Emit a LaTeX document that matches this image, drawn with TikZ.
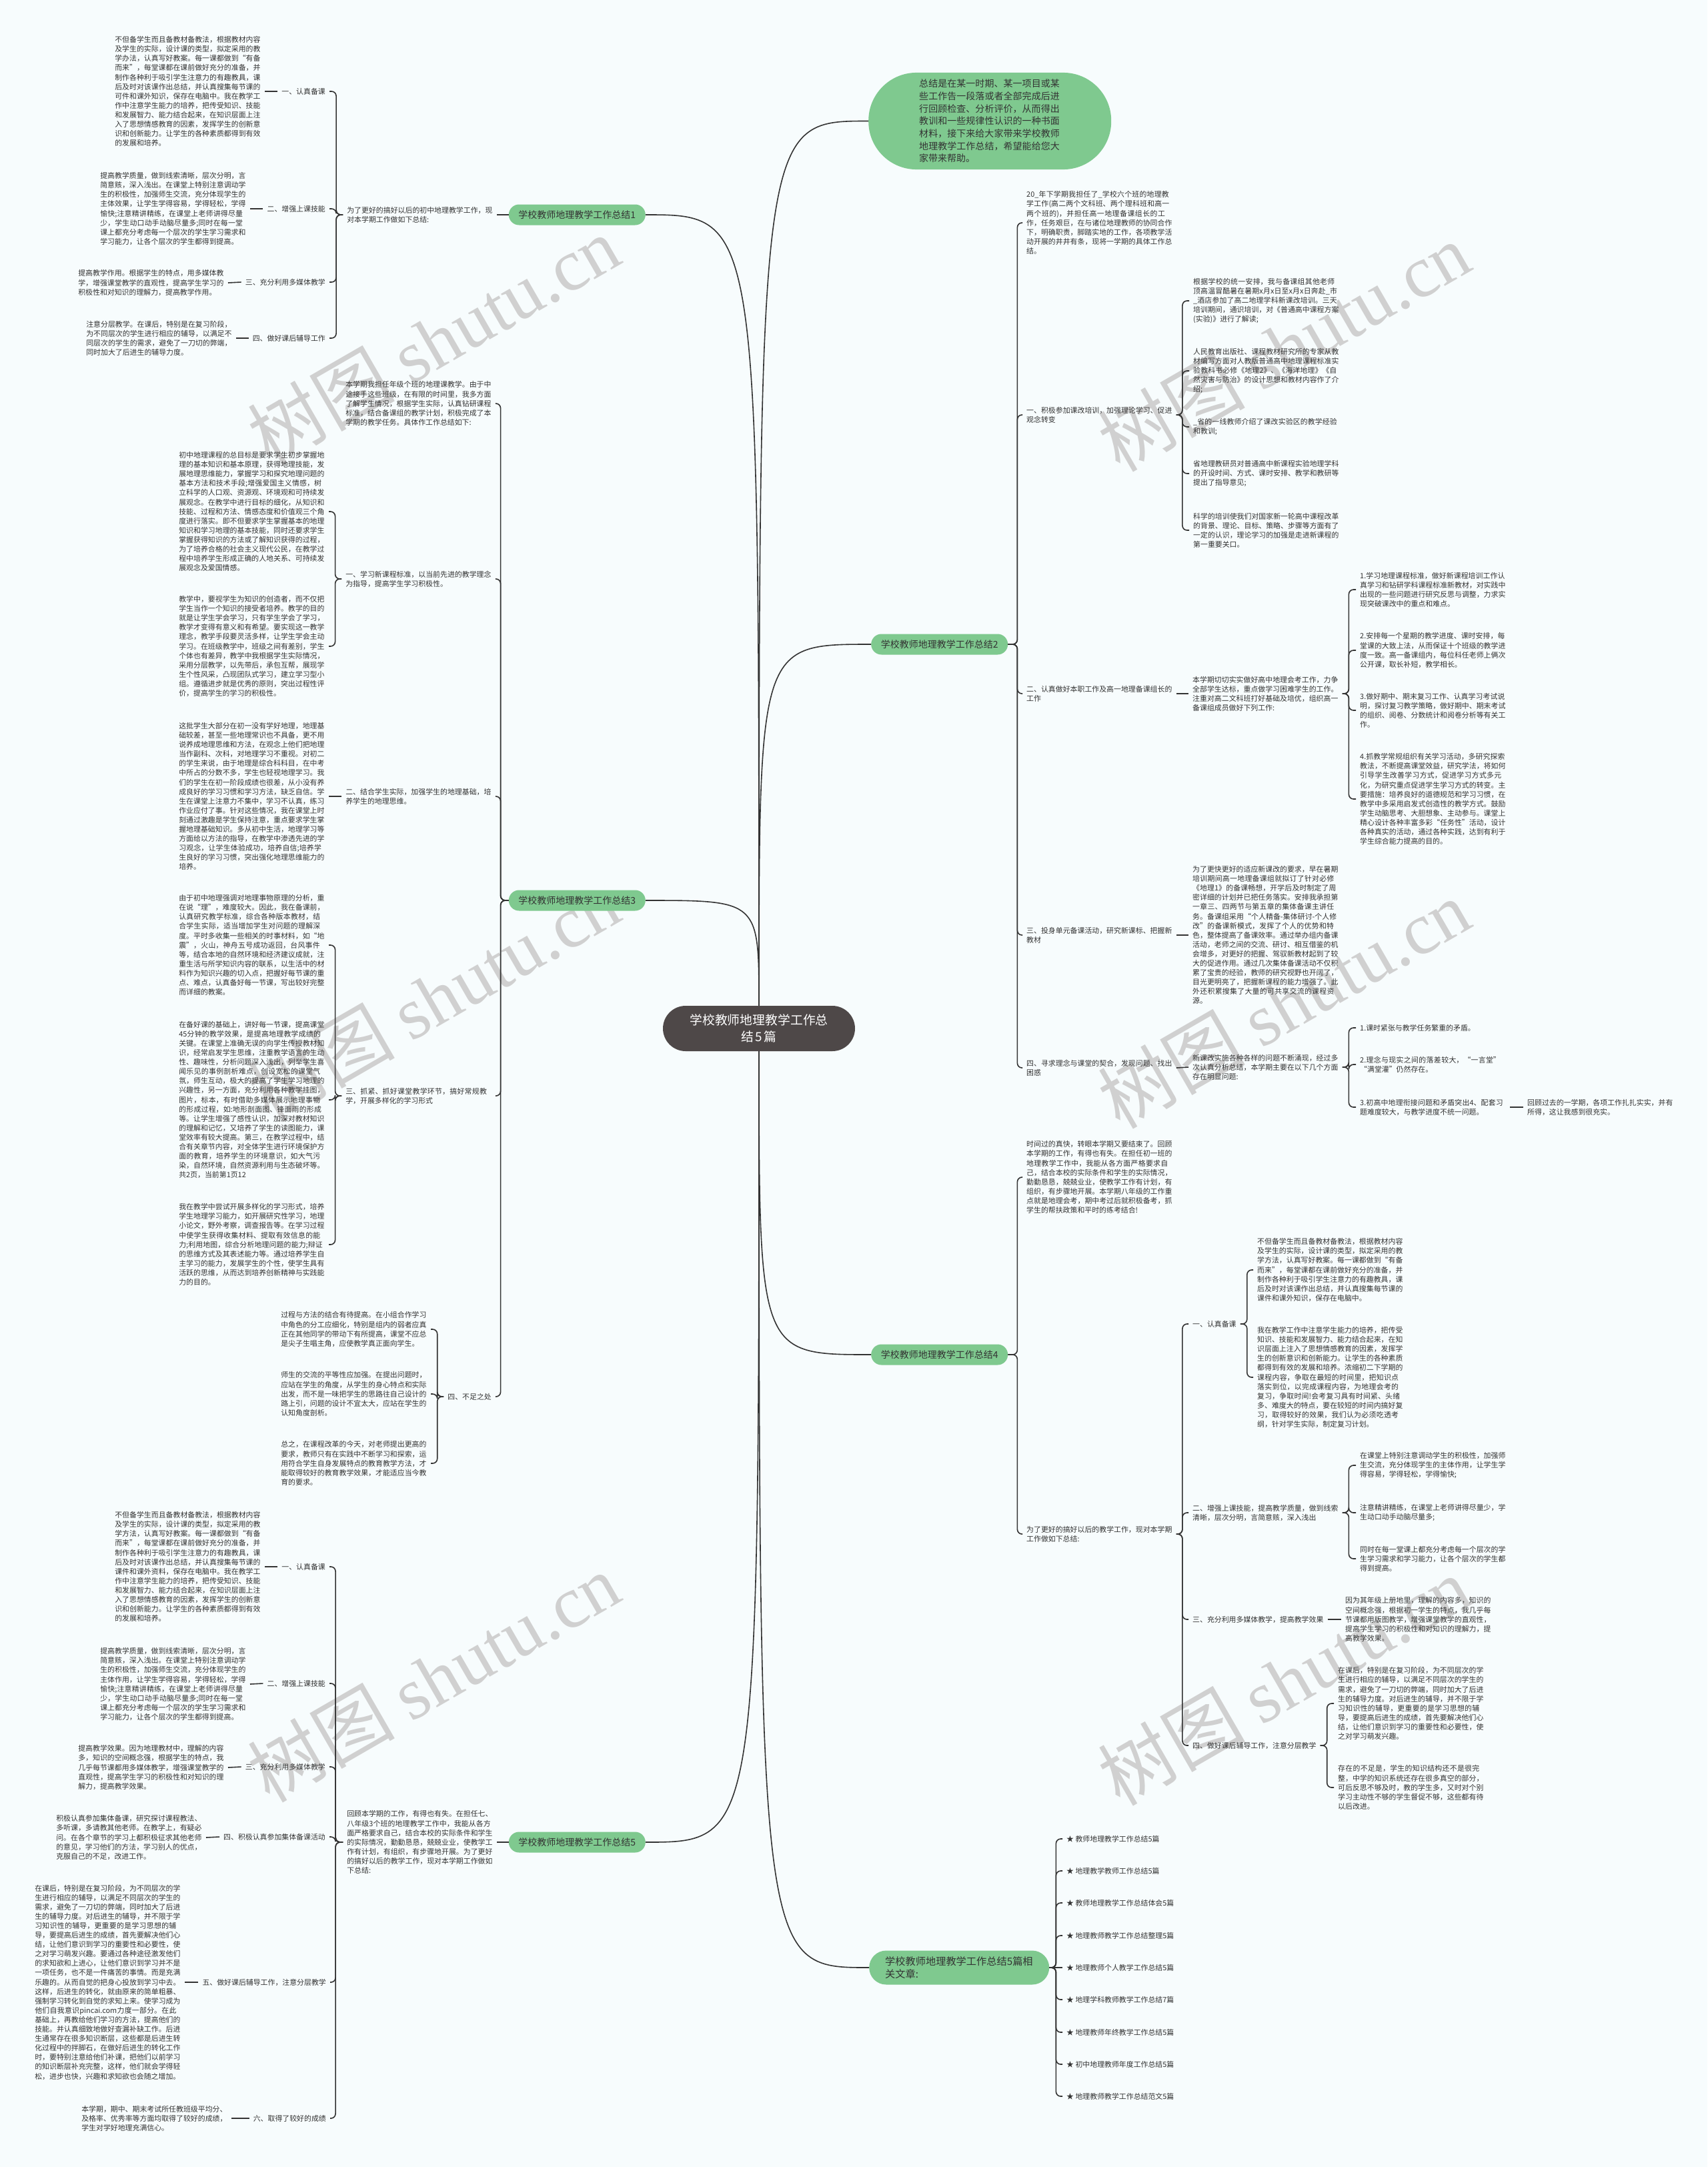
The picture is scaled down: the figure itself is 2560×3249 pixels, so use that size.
\documentclass[tikz,border=0pt]{standalone}
\usepackage{fontspec}
\setmainfont{Noto Sans CJK SC}
\newfontfamily\wmfont{Liberation Serif}
\XeTeXlinebreaklocale "zh"
\XeTeXlinebreakskip=0pt plus 1pt
\usetikzlibrary{positioning}
\definecolor{bggray}{RGB}{247,252,253}
\definecolor{mapgreen}{RGB}{127,201,143}
\definecolor{hubgray}{RGB}{78,72,72}
\definecolor{inkgray}{RGB}{51,51,51}
\definecolor{wmgray}{RGB}{208,208,208}
\newcommand{\leaffont}{\fontsize{10.9}{14.1}\selectfont}
\newcommand{\branchfont}{\fontsize{14}{18.7}\selectfont}

\begin{document}
\begin{tikzpicture}[
	x=1pt, y=-1pt,
	every node/.style={text=inkgray},
	hub/.style={fill=hubgray, text=white, rounded corners=34pt, font=\fontsize{18.8}{25}\selectfont, align=center, text width=212pt, inner xsep=38pt, minimum height=68pt},
	branch/.style={fill=mapgreen, rounded corners=15.5pt, font=\branchfont, minimum width=205pt, minimum height=31pt, inner sep=0pt},
	leaf/.style={font=\leaffont, align=left, inner xsep=6pt, inner ysep=1pt, text width=218.5pt},
	lbl/.style={font=\leaffont, inner xsep=6pt, inner ysep=1pt},
	link/.style={draw=inkgray, line width=1.6pt, rounded corners=7pt},
	wm/.style={text=wmgray, font=\fontsize{110}{110}\selectfont, rotate=30}
]

% canvas
\fill[bggray] (0,0) rectangle (2560,3249);

% watermarks
\node[wm] (wm1) at (650,510) {树图 {\wmfont shutu.cn}};
\node[wm] (wm2) at (1925,520) {树图 {\wmfont shutu.cn}};
\node[wm] (wm3) at (650,1495) {树图 {\wmfont shutu.cn}};
\node[wm] (wm4) at (1925,1505) {树图 {\wmfont shutu.cn}};
\node[wm] (wm5) at (650,2515) {树图 {\wmfont shutu.cn}};
\node[wm] (wm6) at (1925,2520) {树图 {\wmfont shutu.cn}};

% centre and main branches
\node[hub] (hub) at (1138,1542) {学校教师地理教学工作总\\结5篇};
\node[branch, anchor=west, font=\branchfont, text width=212pt, align=left, inner xsep=76pt, inner ysep=10pt, rounded corners=72pt] (intro) at (1302,181.5) {总结是在某一时期、某一项目或某些工作告一段落或者全部完成后进行回顾检查、分析评价，从而得出教训和一些规律性认识的一种书面材料，接下来给大家带来学校教师地理教学工作总结，希望能给您大家带来帮助。};
\node[branch, anchor=east] (b1) at (968,322) {学校教师地理教学工作总结1};
\node[branch, anchor=west] (b2) at (1306,966) {学校教师地理教学工作总结2};
\node[branch, anchor=east] (b3) at (968,1350) {学校教师地理教学工作总结3};
\node[branch, anchor=west] (b4) at (1306,2031) {学校教师地理教学工作总结4};
\node[branch, anchor=east] (b5) at (968,2762) {学校教师地理教学工作总结5};
\node[branch, anchor=west, font=\fontsize{15.2}{19.3}\selectfont, text width=222pt, align=left, inner xsep=24pt, minimum height=51pt, rounded corners=25.5pt] (rel) at (1303,2950) {学校教师地理教学工作总结5篇相关文章:};

\draw[link] (hub.north) .. controls (hub.north |- intro.west) .. (intro.west);
\draw[link] (hub.north) .. controls (hub.north |- b1.east) .. (b1.east);
\draw[link] (hub.north) .. controls (hub.north |- b2.west) .. (b2.west);
\draw[link] (hub.north) .. controls (hub.north |- b3.east) .. (b3.east);
\draw[link] (hub.south) .. controls (hub.south |- b4.west) .. (b4.west);
\draw[link] (hub.south) .. controls (hub.south |- b5.east) .. (b5.east);
\draw[link] (hub.south) .. controls (hub.south |- rel.west) .. (rel.west);

% summary 1
\node[leaf, anchor=east] (s1) at (745,322) {为了更好的搞好以后的初中地理教学工作，现对本学期工作做如下总结:};
\node[lbl, anchor=east] (s1a) at (494,137) {一、认真备课};
\node[lbl, anchor=east] (s1b) at (494,313) {二、增强上课技能};
\node[lbl, anchor=east] (s1c) at (494,423) {三、充分利用多媒体教学};
\node[lbl, anchor=east] (s1d) at (494,507) {四、做好课后辅导工作};
\node[leaf, anchor=east] (s1at) at (397,137) {不但备学生而且备教材备教法，根据教材内容及学生的实际，设计课的类型，拟定采用的教学办法，认真写好教案。每一课都做到“有备而来”，每堂课都在课前做好充分的准备，并制作各种利于吸引学生注意力的有趣教具，课后及时对该课作出总结，并认真搜集每节课的可件和课外知识，保存在电脑中。我在教学工作中注意学生能力的培养，把传受知识、技能和发展智力、能力结合起来，在知识层面上注入了思想情感教育的因素，发挥学生的创新意识和创新能力。让学生的各种素质都得到有效的发展和培养。};
\node[leaf, anchor=east] (s1bt) at (375,313) {提高教学质量，做到线索清晰，层次分明，言简意赅，深入浅出。在课堂上特别注意调动学生的积极性，加强师生交流，充分体现学生的主体效果，让学生学得容易，学得轻松，学得愉快;注意精讲精练，在课堂上老师讲得尽量少，学生动口动手动脑尽量多;同时在每一堂课上都充分考虑每一个层次的学生学习需求和学习能力，让各个层次的学生都得到提高。};
\node[leaf, anchor=east] (s1ct) at (342,424) {提高教学作用。根据学生的特点，用多媒体教学，增强课堂教学的直观性，提高学生学习的积极性和对知识的理解力，提高教学作用。};
\node[leaf, anchor=east] (s1dt) at (354,507) {注意分层教学。在课后，特别是在复习阶段，为不同层次的学生进行相应的辅导，以满足不同层次的学生的需求，避免了一刀切的弊端，同时加大了后进生的辅导力度。};

\draw[link] (b1.west) -- (s1.east);
\draw[link] (s1.west) -- ++(-10,0) |- (s1a.east);
\draw[link] (s1.west) -- ++(-10,0) |- (s1b.east);
\draw[link] (s1.west) -- ++(-10,0) |- (s1c.east);
\draw[link] (s1.west) -- ++(-10,0) |- (s1d.east);
\draw[link] (s1a.west) -- (s1at.east);
\draw[link] (s1b.west) -- (s1bt.east);
\draw[link] (s1c.west) -- (s1ct.east);
\draw[link] (s1d.west) -- (s1dt.east);

% summary 2
\node[leaf, anchor=west] (s2i) at (1533,334) {20\_年下学期我担任了\_学校六个班的地理教学工作(高二两个文科班、两个理科班和高一两个班的)，并担任高一地理备课组长的工作，任务艰巨，在与诸位地理教师的协同合作下，明确职责，脚踏实地的工作，各项教学活动开展的井井有条，现将一学期的具体工作总结。};
\node[leaf, anchor=west] (s2a) at (1533,622) {一、积极参加课改培训，加强理论学习、促进观念转变};
\node[leaf, anchor=west] (s2a1) at (1783,451) {根据学校的统一安排，我与备课组其他老师顶高温冒酷暑在暑期x月x日至x月x日奔赴\_市\_酒店参加了高二地理学科新课改培训。三天培训期间，通识培训，对《普通高中课程方案(实验)》进行了解读;};
\node[leaf, anchor=west] (s2a2) at (1783,556) {人民教育出版社、课程教材研究所的专家从教材编写方面对人教版普通高中地理课程标准实验教科书必修《地理2》、《海洋地理》《自然灾害与防治》的设计思想和教材内容作了介绍;};
\node[leaf, anchor=west] (s2a3) at (1783,640) {\_省的一线教师介绍了课改实验区的教学经验和教训;};
\node[leaf, anchor=west] (s2a4) at (1783,710) {省地理教研员对普通高中新课程实验地理学科的开设时间、方式、课时安排、教学和教研等提出了指导意见;};
\node[leaf, anchor=west] (s2a5) at (1783,795) {科学的培训使我们对国家新一轮高中课程改革的背景、理论、目标、策略、步骤等方面有了一定的认识，理论学习的加强是走进新课程的第一重要关口。};
\node[leaf, anchor=west] (s2b) at (1533,1040) {二、认真做好本职工作及高一地理备课组长的工作};
\node[leaf, anchor=west] (s2bt) at (1782,1040) {本学期切切实实做好高中地理会考工作，力争全部学生达标，重点做学习困难学生的工作。注重对高二文科班打好基础及培优，组织高一备课组成员做好下列工作:};
\node[leaf, anchor=west] (s2b1) at (2033,884) {1.学习地理课程标准，做好新课程培训工作认真学习和钻研学科课程标准新教材，对实践中出现的一些问题进行研究反思与调整，力求实现突破课改中的重点和难点。};
\node[leaf, anchor=west] (s2b2) at (2033,975) {2.安排每一个星期的教学进度、课时安排，每堂课的大致上法，从而保证十个班级的教学进度一致。高一备课组内，每位科任老师上俩次公开课，取长补短，教学相长。};
\node[leaf, anchor=west] (s2b3) at (2033,1065) {3.做好期中、期末复习工作、认真学习考试说明，探讨复习教学策略，做好期中、期末考试的组织、阅卷、分数统计和阅卷分析等有关工作。};
\node[leaf, anchor=west] (s2b4) at (2033,1198) {4.抓教学常规组织有关学习活动，多研究探索教法，不断提高课堂效益，研究学法，将如何引导学生改善学习方式，促进学习方式多元化，为研究重点促进学生学习方式的转变。主要措施：培养良好的道德规范和学习习惯，在教学中多采用启发式创造性的教学方式。鼓励学生动脑思考、大胆想象、主动参与。课堂上精心设计各种丰富多彩“任务性”活动，设计各种真实的活动，通过各种实践，达到有利于学生综合能力提高的目的。};
\node[leaf, anchor=west] (s2c) at (1533,1402) {三、投身单元备课活动，研究新课标、把握新教材};
\node[leaf, anchor=west] (s2ct) at (1782,1402) {为了更快更好的适应新课改的要求，早在暑期培训期间高一地理备课组就拟订了针对必修《地理1》的备课畅想，开学后及时制定了周密详细的计划并已把任务落实。安排我承担第一章三、四两节与第五章的集体备课主讲任务。备课组采用“个人精备-集体研讨-个人修改”的备课新模式，发挥了个人的优势和特色，整体提高了备课效率。通过举办组内备课活动，老师之间的交流、研讨、相互借鉴的机会增多，对更好的把握、驾驭新教材起到了较大的促进作用。通过几次集体备课活动不仅积累了宝贵的经验，教师的研究视野也开阔了，目光更明亮了，把握新课程的能力增强了。此外还积累搜集了大量的可共享交流的课程资源。};
\node[leaf, anchor=west] (s2d) at (1533,1601) {四、寻求理念与课堂的契合，发现问题、找出困惑};
\node[leaf, anchor=west] (s2dt) at (1782,1600) {新课改实施各种各样的问题不断涌现，经过多次认真分析总结，本学期主要在以下几个方面存在明显问题:};
\node[leaf, anchor=west] (s2d1) at (2033,1541) {1.课时紧张与教学任务繁重的矛盾。};
\node[leaf, anchor=west] (s2d2) at (2033,1596) {2.理念与现实之间的落差较大，“一言堂”“满堂灌”仍然存在。};
\node[leaf, anchor=west] (s2d3) at (2033,1660) {3.初高中地理衔接问题和矛盾突出4、配套习题难度较大，与教学进度不统一问题。};
\node[leaf, anchor=west] (s2d3t) at (2284,1660) {回顾过去的一学期，各项工作扎扎实实，并有所得，这让我感到很充实。};

\draw[link] (b2.east) -- ++(14,0) |- (s2i.west);
\draw[link] (b2.east) -- ++(14,0) |- (s2a.west);
\draw[link] (b2.east) -- ++(14,0) |- (s2b.west);
\draw[link] (b2.east) -- ++(14,0) |- (s2c.west);
\draw[link] (b2.east) -- ++(14,0) |- (s2d.west);
\draw[link] (s2a.east) -- ++(9,0) |- (s2a1.west);
\draw[link] (s2a.east) -- ++(9,0) |- (s2a2.west);
\draw[link] (s2a.east) -- ++(9,0) |- (s2a3.west);
\draw[link] (s2a.east) -- ++(9,0) |- (s2a4.west);
\draw[link] (s2a.east) -- ++(9,0) |- (s2a5.west);
\draw[link] (s2b.east) -- (s2bt.west);
\draw[link] (s2bt.east) -- ++(9.5,0) |- (s2b1.west);
\draw[link] (s2bt.east) -- ++(9.5,0) |- (s2b2.west);
\draw[link] (s2bt.east) -- ++(9.5,0) |- (s2b3.west);
\draw[link] (s2bt.east) -- ++(9.5,0) |- (s2b4.west);
\draw[link] (s2c.east) -- (s2ct.west);
\draw[link] (s2d.east) -- (s2dt.west);
\draw[link] (s2dt.east) -- ++(9.5,0) |- (s2d1.west);
\draw[link] (s2dt.east) -- ++(9.5,0) |- (s2d2.west);
\draw[link] (s2dt.east) -- ++(9.5,0) |- (s2d3.west);
\draw[link] (s2d3.east) -- (s2d3t.west);

% summary 3
\node[leaf, anchor=east] (s3i) at (743,605) {本学期我担任年级个班的地理课教学。由于中途接手这些班级，在有限的时间里，我多方面了解学生情况，根据学生实际，认真钻研课程标准，结合备课组的教学计划，积极完成了本学期的教学任务。具体作工作总结如下:};
\node[leaf, anchor=east] (s3a) at (743,868) {一、学习新课程标准，以当前先进的教学理念为指导，提高学生学习积极性。};
\node[leaf, anchor=east] (s3a1) at (493,767) {初中地理课程的总目标是要求学生初步掌握地理的基本知识和基本原理，获得地理技能，发展地理思维能力，掌握学习和探究地理问题的基本方法和技术手段;增强爱国主义情感，树立科学的人口观、资源观、环境观和可持续发展观念。在教学中进行目标的细化，从知识和技能、过程和方法、情感态度和价值观三个角度进行落实。即不但要求学生掌握基本的地理知识和学习地理的基本技能，同时还要求学生掌握获得知识的方法或了解知识获得的过程，为了培养合格的社会主义现代公民，在教学过程中培养学生形成正确的人地关系、可持续发展观念及爱国情感。};
\node[leaf, anchor=east] (s3a2) at (493,969) {教学中，要视学生为知识的创造者，而不仅把学生当作一个知识的接受者培养。教学的目的就是让学生学会学习，只有学生学会了学习，教学才变得有意义和有希望。要实现这一教学理念，教学手段要灵活多样，让学生学会主动学习。在班级教学中，班级之间有差别，学生个体也有差异，教学中我根据学生实际情况，采用分层教学，以先带后，承包互帮，展现学生个性风采，凸现团队式学习，建立学习型小组。遵循进步就是优秀的原则，突出过程性评价，提高学生的学习的积极性。};
\node[leaf, anchor=east] (s3b) at (743,1194) {二、结合学生实际，加强学生的地理基础，培养学生的地理思维。};
\node[leaf, anchor=east] (s3b1) at (493,1194) {这批学生大部分在初一没有学好地理，地理基础较差，甚至一些地理常识也不具备，更不用说养成地理思维和方法，在观念上他们把地理当作副科、次科，对地理学习不重视。对初二的学生来说，由于地理是综合科科目，在中考中所占的分数不多，学生也轻视地理学习。我们的学生在初一阶段成绩也很差，从小没有养成良好的学习习惯和学习方法，缺乏自信。学生在课堂上注意力不集中，学习不认真，练习作业应付了事。针对这些情况，我在课堂上时刻通过激趣是学生保持注意，重点要求学生掌握地理基础知识。多从初中生活，地理学习等方面给以方法的指导，在教学中渗透先进的学习观念，让学生体验成功，培养自信;培养学生良好的学习习惯，突出强化地理思维能力的培养。};
\node[leaf, anchor=east] (s3c) at (743,1643) {三、抓紧、抓好课堂教学环节，搞好常规教学，开展多样化的学习形式};
\node[leaf, anchor=east] (s3c1) at (493,1417) {由于初中地理强调对地理事物原理的分析，重在说“理”，难度较大。因此，我在备课前，认真研究教学标准，综合各种版本教材，结合学生实际，适当增加学生对问题的理解深度。平时多收集一些相关的时事材料，如“地震”，火山，神舟五号成功返回，台风事件等，结合本地的自然环境和经济建议成就，注重生活与所学知识内容的联系，以生活中的材料作为知识兴趣的切入点，把握好每节课的重点、难点，认真备好每一节课，写出较好完整而详细的教案。};
\node[leaf, anchor=east] (s3c2) at (493,1649) {在备好课的基础上，讲好每一节课，提高课堂45分钟的教学效果，是提高地理教学成绩的关键。在课堂上准确无误的向学生传授教材知识，经常启发学生思维，注重教学语言的生动性、趣味性，分析问题深入浅出，列举学生喜闻乐见的事例剖析难点，创设宽松的课堂气氛，师生互动，极大的提高了学生学习地理的兴趣性，另一方面，充分利用各种教学挂图，图片，标本，有时借助多媒体展示地理事物的形成过程，如:地形剖面图、锋面雨的形成等。让学生增强了感性认识，加深对教材知识的理解和记忆，又培养了学生的读图能力，课堂效率有较大提高。第三，在教学过程中，结合有关章节内容，对全体学生进行环境保护方面的教育，培养学生的环境意识，如大气污染，自然环境，自然资源利用与生态破坏等。共2页，当前第1页12};
\node[leaf, anchor=east] (s3c3) at (493,1866) {我在教学中尝试开展多样化的学习形式，培养学生地理学习能力，如开展研究性学习，地理小论文，野外考察，调查报告等。在学习过程中使学生获得收集材料、提取有效信息的能力;利用地图，综合分析地理问题的能力;辩证的思维方式及其表述能力等。通过培养学生自主学习的能力，发展学生的个性，使学生具有活跃的思维，从而达到培养创新精神与实践能力的目的。};
\node[lbl, anchor=east] (s3d) at (743,2094) {四、不足之处};
\node[leaf, anchor=east] (s3d1) at (646,1993) {过程与方法的结合有待提高。在小组合作学习中角色的分工应细化，特别是组内的弱者应真正在其他同学的带动下有所提高，课堂不应总是尖子生唱主角，应使教学真正面向学生。};
\node[leaf, anchor=east] (s3d2) at (646,2090) {师生的交流的平等性应加强。在提出问题时，应站在学生的角度，从学生的身心特点和实际出发，而不是一味把学生的思路往自己设计的路上引，问题的设计不宜太大，应站在学生的认知角度剖析。};
\node[leaf, anchor=east] (s3d3) at (646,2194) {总之，在课程改革的今天，对老师提出更高的要求，教师只有在实践中不断学习和探索，运用符合学生自身发展特点的教育教学方法，才能取得较好的教育教学效果，才能适应当今教育的要求。};

\draw[link] (b3.west) -- ++(-12,0) |- (s3i.east);
\draw[link] (b3.west) -- ++(-12,0) |- (s3a.east);
\draw[link] (b3.west) -- ++(-12,0) |- (s3b.east);
\draw[link] (b3.west) -- ++(-12,0) |- (s3c.east);
\draw[link] (b3.west) -- ++(-12,0) |- (s3d.east);
\draw[link] (s3a.west) -- ++(-9.5,0) |- (s3a1.east);
\draw[link] (s3a.west) -- ++(-9.5,0) |- (s3a2.east);
\draw[link] (s3b.west) -- (s3b1.east);
\draw[link] (s3c.west) -- ++(-9.5,0) |- (s3c1.east);
\draw[link] (s3c.west) -- ++(-9.5,0) |- (s3c2.east);
\draw[link] (s3c.west) -- ++(-9.5,0) |- (s3c3.east);
\draw[link] (s3d.west) -- ++(-9.5,0) |- (s3d1.east);
\draw[link] (s3d.west) -- ++(-9.5,0) |- (s3d2.east);
\draw[link] (s3d.west) -- ++(-9.5,0) |- (s3d3.east);

% summary 4
\node[leaf, anchor=west] (s4i) at (1533,1765) {时间过的真快，转眼本学期又要结束了。回顾本学期的工作，有得也有失。在担任初一班的地理教学工作中，我能从各方面严格要求自己，结合本校的实际条件和学生的实际情况，勤勤恳恳，兢兢业业，使教学工作有计划，有组织，有步骤地开展。本学期八年级的工作重点就是地理会考，期中考过后就积极备考，抓学生的帮扶政策和平时的练考结合!};
\node[leaf, anchor=west] (s4t) at (1533,2300) {为了更好的搞好以后的教学工作，现对本学期工作做如下总结:};
\node[lbl, anchor=west] (s4a) at (1782,1985) {一、认真备课};
\node[leaf, anchor=west] (s4a1) at (1879,1904) {不但备学生而且备教材备教法，根据教材内容及学生的实际，设计课的类型，拟定采用的教学方法，认真写好教案。每一课都做到“有备而来”，每堂课都在课前做好充分的准备，并制作各种利于吸引学生注意力的有趣教具，课后及时对该课作出总结，并认真搜集每节课的课件和课外知识，保存在电脑中。};
\node[leaf, anchor=west] (s4a2) at (1879,2065) {我在教学工作中注意学生能力的培养，把传受知识、技能和发展智力、能力结合起来，在知识层面上注入了思想情感教育的因素，发挥学生的创新意识和创新能力。让学生的各种素质都得到有效的发展和培养。浓缩初二下学期的课程内容，争取在最短的时间里，把知识点落实到位，以完成课程内容，为地理会考的复习，争取时间!会考复习具有时间紧、头绪多、难度大的特点，要在较短的时间内搞好复习，取得较好的效果，我们认为必须吃透考纲，针对学生实际，制定复习计划。};
\node[leaf, anchor=west] (s4b) at (1782,2268) {二、增强上课技能，提高教学质量，做到线索清晰，层次分明，言简意赅，深入浅出};
\node[leaf, anchor=west] (s4b1) at (2033,2197) {在课堂上特别注意调动学生的积极性，加强师生交流，充分体现学生的主体作用，让学生学得容易，学得轻松，学得愉快;};
\node[leaf, anchor=west] (s4b2) at (2033,2268) {注意精讲精练，在课堂上老师讲得尽量少，学生动口动手动脑尽量多;};
\node[leaf, anchor=west] (s4b3) at (2033,2337) {同时在每一堂课上都充分考虑每一个层次的学生学习需求和学习能力，让各个层次的学生都得到提高。};
\node[lbl, anchor=west] (s4c) at (1782,2428) {三、充分利用多媒体教学，提高教学效果};
\node[leaf, anchor=west] (s4ct) at (2011,2428) {因为其年级上册地里，理解的内容多，知识的空间概念强，根据初一学生的特点，我几乎每节课都用版图教学，增强课堂教学的直观性，提高学生学习的积极性和对知识的理解力，提高教学效果。};
\node[lbl, anchor=west] (s4d) at (1782,2617) {四、做好课后辅导工作，注意分层教学};
\node[leaf, anchor=west] (s4d1) at (2000,2554) {在课后，特别是在复习阶段，为不同层次的学生进行相应的辅导，以满足不同层次的学生的需求，避免了一刀切的弊端，同时加大了后进生的辅导力度。对后进生的辅导，并不限于学习知识性的辅导，更重要的是学习思想的辅导，要提高后进生的成绩，首先要解决他们心结，让他们意识到学习的重要性和必要性，使之对学习萌发兴趣。};
\node[leaf, anchor=west] (s4d2) at (2000,2680) {存在的不足是，学生的知识结构还不是很完整，中学的知识系统还存在很多真空的部分，可后反思不够及时，教的学生多，又时对个别学习主动性不够的学生督促不够，这些都有待以后改进。};

\draw[link] (b4.east) -- ++(14,0) |- (s4i.west);
\draw[link] (b4.east) -- ++(14,0) |- (s4t.west);
\draw[link] (s4t.east) -- ++(9,0) |- (s4a.west);
\draw[link] (s4t.east) -- ++(9,0) |- (s4b.west);
\draw[link] (s4t.east) -- ++(9,0) |- (s4c.west);
\draw[link] (s4t.east) -- ++(9,0) |- (s4d.west);
\draw[link] (s4a.east) -- ++(10,0) |- (s4a1.west);
\draw[link] (s4a.east) -- ++(10,0) |- (s4a2.west);
\draw[link] (s4b.east) -- ++(9.5,0) |- (s4b1.west);
\draw[link] (s4b.east) -- ++(9.5,0) |- (s4b2.west);
\draw[link] (s4b.east) -- ++(9.5,0) |- (s4b3.west);
\draw[link] (s4c.east) -- (s4ct.west);
\draw[link] (s4d.east) -- ++(10,0) |- (s4d1.west);
\draw[link] (s4d.east) -- ++(10,0) |- (s4d2.west);

% summary 5
\node[leaf, anchor=east] (s5) at (745,2762) {回顾本学期的工作，有得也有失。在担任七、八年级3个班的地理教学工作中，我能从各方面严格要求自己，结合本校的实际条件和学生的实际情况，勤勤恳恳，兢兢业业，使教学工作有计划，有组织，有步骤地开展。为了更好的搞好以后的教学工作，现对本学期工作做如下总结:};
\node[lbl, anchor=east] (s5a) at (494,2349) {一、认真备课};
\node[lbl, anchor=east] (s5b) at (494,2524) {二、增强上课技能};
\node[lbl, anchor=east] (s5c) at (494,2649) {三、充分利用多媒体教学};
\node[lbl, anchor=east] (s5d) at (494,2754) {四、积极认真参加集体备课活动};
\node[lbl, anchor=east] (s5e) at (495,2972) {五、做好课后辅导工作，注意分层教学};
\node[lbl, anchor=east] (s5f) at (495,3176) {六、取得了较好的成绩};
\node[leaf, anchor=east] (s5at) at (397,2349) {不但备学生而且备教材备教法，根据教材内容及学生的实际，设计课的类型，拟定采用的教学方法，认真写好教案。每一课都做到“有备而来”，每堂课都在课前做好充分的准备，并制作各种利于吸引学生注意力的有趣教具，课后及时对该课作出总结，并认真搜集每节课的课件和课外资料，保存在电脑中。我在教学工作中注意学生能力的培养，把传受知识、技能和发展智力、能力结合起来，在知识层面上注入了思想情感教育的因素，发挥学生的创新意识和创新能力。让学生的各种素质都得到有效的发展和培养。};
\node[leaf, anchor=east] (s5bt) at (375,2525) {提高教学质量，做到线索清晰，层次分明，言简意赅，深入浅出。在课堂上特别注意调动学生的积极性，加强师生交流，充分体现学生的主体作用，让学生学得容易，学得轻松，学得愉快;注意精讲精练，在课堂上老师讲得尽量少，学生动口动手动脑尽量多;同时在每一堂课上都充分考虑每一个层次的学生学习需求和学习能力，让各个层次的学生都得到提高。};
\node[leaf, anchor=east] (s5ct) at (342,2650) {提高教学效果。因为地理教材中，理解的内容多，知识的空间概念强，根据学生的特点，我几乎每节课都用多媒体教学，增强课堂教学的直观性，提高学生学习的积极性和对知识的理解力，提高教学效果。};
\node[leaf, anchor=east] (s5dt) at (309,2755) {积极认真参加集体备课，研究探讨课程教法、多听课，多请教其他老师。在教学上，有疑必问。在各个章节的学习上都积极征求其他老师的意见，学习他们的方法，学习别人的优点，克服自己的不足，改进工作。};
\node[leaf, anchor=east] (s5et) at (277,2972) {在课后，特别是在复习阶段，为不同层次的学生进行相应的辅导，以满足不同层次的学生的需求，避免了一刀切的弊端，同时加大了后进生的辅导力度。对后进生的辅导，并不限于学习知识性的辅导，更重要的是学习思想的辅导，要提高后进生的成绩，首先要解决他们心结，让他们意识到学习的重要性和必要性，使之对学习萌发兴趣。要通过各种途径激发他们的求知欲和上进心，让他们意识到学习并不是一项任务，也不是一件痛苦的事情。而是充满乐趣的。从而自觉的把身心投放到学习中去。这样，后进生的转化，就由原来的简单粗暴、强制学习转化到自觉的求知上来。使学习成为他们自我意识pincai.com力度一部分。在此基础上，再教给他们学习的方法，提高他们的技能。并认真细致地做好查漏补缺工作。后进生通常存在很多知识断层，这些都是后进生转化过程中的拌脚石，在做好后进生的转化工作时，要特别注意给他们补课，把他们以前学习的知识断层补充完整，这样，他们就会学得轻松，进步也快，兴趣和求知欲也会随之增加。};
\node[leaf, anchor=east] (s5ft) at (347,3176) {本学期，期中、期末考试所任教班级平均分、及格率、优秀率等方面均取得了较好的成绩，学生对学好地理充满信心。};

\draw[link] (b5.west) -- (s5.east);
\draw[link] (s5.west) -- ++(-11,0) |- (s5a.east);
\draw[link] (s5.west) -- ++(-11,0) |- (s5b.east);
\draw[link] (s5.west) -- ++(-11,0) |- (s5c.east);
\draw[link] (s5.west) -- ++(-11,0) |- (s5d.east);
\draw[link] (s5.west) -- ++(-11,0) |- (s5e.east);
\draw[link] (s5.west) -- ++(-11,0) |- (s5f.east);
\draw[link] (s5a.west) -- (s5at.east);
\draw[link] (s5b.west) -- (s5bt.east);
\draw[link] (s5c.west) -- (s5ct.east);
\draw[link] (s5d.west) -- (s5dt.east);
\draw[link] (s5e.west) -- (s5et.east);
\draw[link] (s5f.west) -- (s5ft.east);

% related articles
\node[lbl, anchor=west] (r1) at (1593,2757) {★ 教师地理教学工作总结5篇};
\node[lbl, anchor=west] (r2) at (1593,2805) {★ 地理教学教师工作总结5篇};
\node[lbl, anchor=west] (r3) at (1593,2853) {★ 教师地理教学工作总结体会5篇};
\node[lbl, anchor=west] (r4) at (1593,2902) {★ 地理教师教学工作总结整理5篇};
\node[lbl, anchor=west] (r5) at (1593,2950) {★ 地理教师个人教学工作总结5篇};
\node[lbl, anchor=west] (r6) at (1593,2998) {★ 地理学科教师教学工作总结7篇};
\node[lbl, anchor=west] (r7) at (1593,3047) {★ 地理教师年终教学工作总结5篇};
\node[lbl, anchor=west] (r8) at (1593,3095) {★ 初中地理教师年度工作总结5篇};
\node[lbl, anchor=west] (r9) at (1593,3143) {★ 地理教师教学工作总结范文5篇};

\draw[link] (rel.east) -- ++(10,0) |- (r1.west);
\draw[link] (rel.east) -- ++(10,0) |- (r2.west);
\draw[link] (rel.east) -- ++(10,0) |- (r3.west);
\draw[link] (rel.east) -- ++(10,0) |- (r4.west);
\draw[link] (rel.east) -- (r5.west);
\draw[link] (rel.east) -- ++(10,0) |- (r6.west);
\draw[link] (rel.east) -- ++(10,0) |- (r7.west);
\draw[link] (rel.east) -- ++(10,0) |- (r8.west);
\draw[link] (rel.east) -- ++(10,0) |- (r9.west);

\end{tikzpicture}
\end{document}
